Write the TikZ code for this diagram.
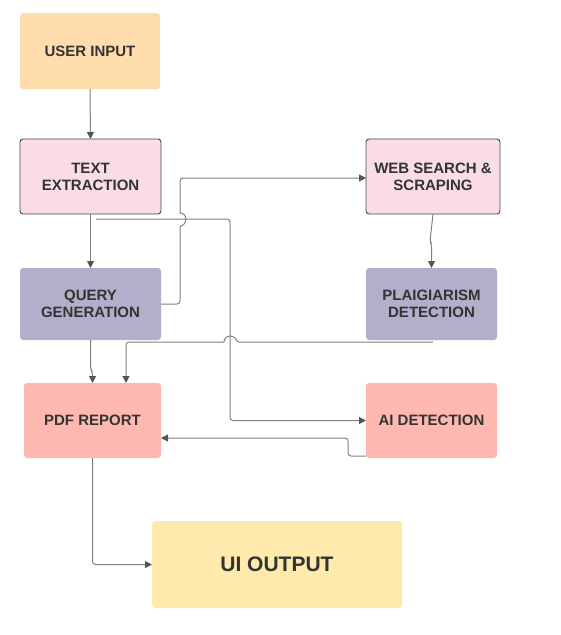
\documentclass[tikz,border=0pt]{standalone}
\usepackage{fontspec}
\setmainfont{Liberation Sans}
\usetikzlibrary{arrows.meta,calc}
\definecolor{peach}{HTML}{FFDCAC}
\definecolor{pinkb}{HTML}{F9DCE4}
\definecolor{lav}{HTML}{B3AFCA}
\definecolor{salmon}{HTML}{FFB8B0}
\definecolor{yel}{HTML}{FDEAAC}
\definecolor{txt}{HTML}{333333}
\definecolor{ln}{HTML}{808080}
\definecolor{tip}{HTML}{555555}
\begin{document}
\begin{tikzpicture}[x=1pt,y=-1pt,
  box/.style={rectangle, rounded corners=3pt, inner sep=0pt, outer sep=0pt, align=center,
    text=txt, font=\bfseries\fontsize{15}{17}\selectfont},
  bordered/.style={draw=txt!90, line width=0.9pt},
  arr/.style={draw=ln, line width=1pt, rounded corners=3pt,
    -{Triangle[length=7pt,width=7pt,fill=tip,color=tip]}},
  plain/.style={draw=ln, line width=1pt, rounded corners=3pt}]
\useasboundingbox (0,0) rectangle (560,635);
% boxes
\node[box, fill=peach, minimum width=140pt, minimum height=76pt] (ui) at (90,51) {USER INPUT};
\node[box, bordered, fill=pinkb, minimum width=141pt, minimum height=75pt] (te) at (90.5,176.5) {TEXT\\EXTRACTION};
\node[box, fill=lav, minimum width=141pt, minimum height=72pt] (qg) at (90.5,304) {QUERY\\GENERATION};
\node[box, fill=salmon, minimum width=137pt, minimum height=75pt] (pdf) at (92.5,420.5) {PDF REPORT};
\node[box, fill=yel, minimum width=250pt, minimum height=87pt, font=\bfseries\fontsize{21}{25}\selectfont] (out) at (277,564.5) {UI OUTPUT};
\node[box, bordered, fill=pinkb, minimum width=134pt, minimum height=75pt] (ws) at (433,176.5) {WEB SEARCH \&\\SCRAPING};
\node[box, fill=lav, minimum width=131pt, minimum height=72pt] (pd) at (431.5,304) {PLAIGIARISM\\DETECTION};
\node[box, fill=salmon, minimum width=131pt, minimum height=75pt] (ai) at (431.5,420.5) {AI DETECTION};
% helper coordinates
\coordinate (teout) at (96,219);
\coordinate (pdout) at (433,342);
\coordinate (aiout) at (366,456);
\coordinate (pdfin) at (161,438);
\coordinate (pdftop) at (126,383);
% connectors
\draw[arr] (qg.east) -- (180,304) -- (180,225) {[rounded corners=0pt] arc[start angle=90, end angle=-90, radius=6]} -- (180,178) -- (ws.west |- 0,178);
\draw[arr] (pdout) -- (236,342) {[rounded corners=0pt] arc[start angle=0, end angle=-180, radius=6]} -- (126,342) -- (pdftop);
\draw[arr] (ui.south) -- (te.north);
\draw[arr] (te.south) -- (qg.north);
\draw[arr] (teout) -- (230,219) -- (230,420.5) -- (ai.west);
\draw[arr] (qg.south) -- (90.5,369) -- (92.5,372) -- (pdf.north);
\draw[arr] (ws.south) -- (430,241) -- (431.5,244) -- (pd.north);
\draw[arr] (aiout) -- (348,456) -- (348,438) -- (pdfin);
\draw[arr] (pdf.south) -- (92.5,564.5) -- (out.west);
\end{tikzpicture}
\end{document}
